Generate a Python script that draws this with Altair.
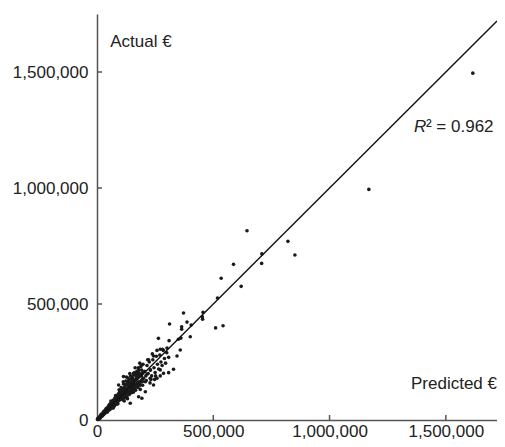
import altair as alt
import pandas as pd

# Predicted vs actual values, in thousands of euro
predicted_k = [
    1616, 1169, 645, 821, 851, 709, 708, 587, 534, 620, 518, 456, 453, 454, 542, 510,
    372, 387, 405, 364, 364, 401, 361,
    312, 264, 310, 272, 282, 301, 350, 358, 344, 308, 243, 222, 193, 114, 157, 329, 308,
    286, 272, 258, 243, 193, 272, 229, 215, 179, 229, 208, 93, 157, 157, 122, 208, 179, 143,
    5, 8, 10, 12, 15, 18, 20, 22, 25, 28, 30, 32, 35, 38, 40, 42, 45, 48, 50, 3, 6, 14, 17,
    24, 27, 33, 36, 44, 47, 49,
    52, 55, 58, 60, 62, 65, 68, 70, 72, 75, 78, 80, 82, 85, 88, 90, 92, 95, 98, 100, 54, 57,
    63, 66, 71, 74, 77, 81, 84, 87, 91, 94, 97, 99, 60, 70, 80, 90, 95, 56, 67, 76, 86, 93,
    102, 105, 108, 110, 112, 115, 118, 120, 122, 125, 128, 130, 132, 135, 138, 140, 142, 145,
    148, 150, 104, 109, 114, 119, 124, 129, 134, 139, 144, 149, 106, 116, 126, 136, 146, 113,
    127, 141, 117, 131,
    152, 155, 158, 160, 162, 165, 168, 170, 172, 175, 178, 180, 182, 185, 188, 190, 192, 195,
    198, 200, 156, 166, 176, 186, 196, 154, 174, 194, 164, 184,
    205, 210, 215, 220, 225, 230, 235, 240, 245, 250, 255, 260, 265, 270, 275, 280, 285, 290,
    295, 300, 212, 232, 252, 218, 238, 258, 228, 248,
]
actual_k = [
    1495, 994, 816, 770, 711, 716, 675, 671, 611, 576, 526, 464, 445, 434, 406, 397,
    461, 422, 409, 402, 391, 359, 353,
    414, 352, 342, 305, 305, 310, 348, 302, 276, 270, 276, 259, 237, 187, 201, 219, 204,
    201, 190, 180, 151, 94, 216, 216, 198, 216, 180, 165, 151, 158, 129, 100, 122, 100, 72,
    4, 10, 7, 14, 12, 20, 16, 25, 22, 30, 26, 35, 30, 42, 36, 46, 40, 52, 45, 6, 3, 9, 23,
    18, 34, 28, 44, 38, 56, 42,
    60, 50, 64, 55, 70, 58, 75, 62, 80, 68, 88, 72, 92, 78, 98, 82, 104, 86, 110, 90, 68, 48,
    76, 54, 86, 64, 95, 70, 100, 76, 112, 84, 120, 88, 82, 52, 105, 70, 130, 62, 66, 78, 88, 96,
    118, 95, 128, 100, 135, 105, 140, 108, 150, 112, 155, 118, 165, 122, 170, 125, 160, 130,
    178, 135, 140, 88, 155, 95, 168, 100, 180, 110, 190, 118, 110, 120, 130, 140, 150, 165,
    185, 200, 82, 92,
    170, 140, 195, 145, 205, 150, 190, 155, 210, 160, 225, 165, 200, 150, 230, 170, 215, 175,
    240, 180, 120, 128, 140, 132, 150, 180, 185, 200, 225, 245,
    210, 190, 235, 200, 250, 215, 190, 260, 225, 205, 275, 240, 220, 280, 250, 235, 300, 265,
    245, 290, 170, 175, 190, 260, 285, 300, 160, 175,
]
# denser core of the cloud near the origin (thousands of euro)
cluster_pred_k = [
    2, 4, 7, 9, 11, 13, 16, 19, 21, 23, 26, 29, 31, 34, 37, 39, 41, 43, 46, 51,
    53, 59, 61, 64, 69, 73, 79, 83, 89, 96, 101, 107, 111, 121, 123, 133, 137, 143, 147, 153,
    157, 163, 167, 171, 177, 183, 187, 191, 197, 103, 111, 119, 131, 139, 151, 161, 173, 179,
    115, 125, 135, 145, 155, 165, 175, 185, 195, 40, 50, 60, 70, 80, 30, 20, 45, 55,
    65, 75, 85,
]
cluster_act_k = [
    2, 5, 6, 11, 9, 16, 14, 18, 22, 20, 28, 25, 33, 32, 38, 35, 43, 41, 48, 50,
    56, 57, 63, 66, 68, 74, 80, 85, 90, 100, 104, 112, 115, 125, 135, 138, 150, 145, 155, 160,
    165, 170, 175, 180, 185, 190, 195, 190, 205, 125, 128, 135, 150, 160, 185, 195, 200, 205,
    95, 105, 115, 120, 130, 140, 150, 160, 165, 50, 60, 72, 84, 95, 38, 26, 34, 44,
    52, 60, 68,
]

x_ticks = [0, 500000, 1000000, 1500000]
y_ticks = [0, 500000, 1000000, 1500000]
inner_ticks = [500000, 1000000, 1500000]
x_max = 1720000
y_max = 1750000
fit_x = [0, 1720000]
fit_y = [0, 1720000]

assert len(predicted_k) == len(actual_k)
assert len(cluster_pred_k) == len(cluster_act_k)

df = pd.DataFrame({
    "Predicted": [v * 1000 for v in predicted_k + cluster_pred_k],
    "Actual": [v * 1000 for v in actual_k + cluster_act_k],
})
fit_df = pd.DataFrame({"Predicted": fit_x, "Actual": fit_y})
tick_df = pd.DataFrame({"v": inner_ticks})

FONT = "Liberation Sans"
W, H = 400, 406

xs = alt.Scale(domain=[0, x_max], nice=False, zero=True)
ys = alt.Scale(domain=[0, y_max], nice=False, zero=True)

x_axis = alt.Axis(values=x_ticks, format=",d", ticks=False, grid=False, title=None,
                  domainColor="#555555", domainWidth=1.5, labelFont=FONT, labelFontSize=17,
                  labelColor="#222222", labelPadding=3, labelFlush=False, labelOverlap=False)
y_axis = alt.Axis(values=y_ticks, format=",d", ticks=False, grid=False, title=None,
                  domainColor="#555555", domainWidth=1.5, labelFont=FONT, labelFontSize=17,
                  labelColor="#222222", labelPadding=9, labelFlush=False, labelOverlap=False)

points = alt.Chart(df).mark_circle(size=13, color="#1a1a1a", opacity=1).encode(
    x=alt.X("Predicted:Q", scale=xs, axis=x_axis),
    y=alt.Y("Actual:Q", scale=ys, axis=y_axis),
)

fit = alt.Chart(fit_df).mark_line(color="#111111", strokeWidth=1.4).encode(
    x=alt.X("Predicted:Q", scale=xs),
    y=alt.Y("Actual:Q", scale=ys),
)

xt = alt.Chart(tick_df).mark_rule(color="#555555", strokeWidth=1.5).encode(
    x=alt.X("v:Q", scale=xs), y=alt.value(H), y2=alt.value(H - 5)
)
yt = alt.Chart(tick_df).mark_rule(color="#555555", strokeWidth=1.5).encode(
    y=alt.Y("v:Q", scale=ys), x=alt.value(0), x2=alt.value(5)
)

ann = pd.DataFrame({
    "x": [57000, 1720000],
    "y": [1629000, 155000],
    "t": ["Actual €", "Predicted €"],
})
actual_lbl = alt.Chart(ann.iloc[[0]]).mark_text(
    font=FONT, fontSize=17, color="#222222", align="left", baseline="middle"
).encode(x=alt.X("x:Q", scale=xs), y=alt.Y("y:Q", scale=ys), text="t:N")
pred_lbl = alt.Chart(ann.iloc[[1]]).mark_text(
    font=FONT, fontSize=17, color="#222222", align="right", baseline="middle"
).encode(x=alt.X("x:Q", scale=xs), y=alt.Y("y:Q", scale=ys), text="t:N")

r2_df = pd.DataFrame({"x": [1363000], "y": [1263000], "r": ["R"], "rest": ["² = 0.962"]})
r_lbl = alt.Chart(r2_df).mark_text(
    font=FONT, fontSize=17, fontStyle="italic", color="#222222", align="left", baseline="middle"
).encode(x=alt.X("x:Q", scale=xs), y=alt.Y("y:Q", scale=ys), text="r:N")
rest_lbl = alt.Chart(r2_df).mark_text(
    font=FONT, fontSize=17, color="#222222", align="left", baseline="middle", dx=12
).encode(x=alt.X("x:Q", scale=xs), y=alt.Y("y:Q", scale=ys), text="rest:N")

chart = alt.layer(points, fit, xt, yt, actual_lbl, pred_lbl, r_lbl, rest_lbl).properties(
    width=W, height=H,
    padding={"left": 89, "top": 6, "right": 0, "bottom": 19},
    autosize=alt.AutoSizeParams(type="none"),
).configure_view(stroke=None)

chart.save("out.html", embed_options={"renderer": "svg", "actions": False})
